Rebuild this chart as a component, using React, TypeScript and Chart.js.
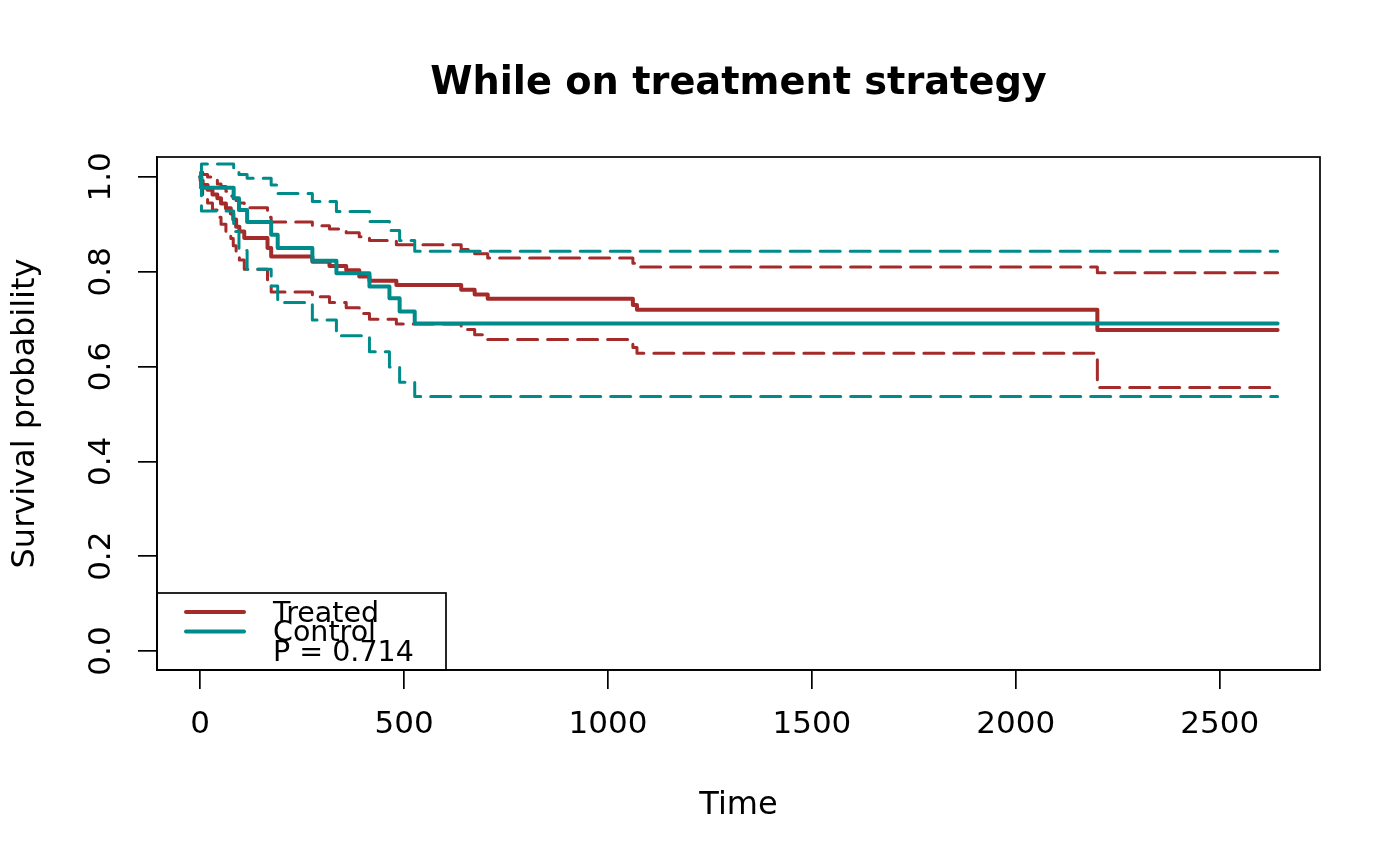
import React, { useEffect, useRef } from "react";
import { Chart, registerables } from "chart.js";

Chart.register(...registerables);

// ---- text ----
const TITLE = "While on treatment strategy";
const X_TITLE = "Time";
const Y_TITLE = "Survival probability";
const legendLabels = ["Treated", "Control"];
const pValueLabel = "P = 0.714";

// ---- ticks ----
const xTickValues = [0, 500, 1000, 1500, 2000, 2500];
const yTickValues = [0, 0.2, 0.4, 0.6, 0.8, 1.0];
const yTickLabels = ["0.0", "0.2", "0.4", "0.6", "0.8", "1.0"];

// ---- Treated (Kaplan-Meier steps) ----
const trtTime = [0, 1, 6, 18, 30, 42, 51, 63, 75, 81, 88, 96, 108, 165, 174, 275, 317, 358, 390, 415, 481, 640, 673, 705, 1061, 1071, 2200, 2642];
const trtSurv = [1, 0.992, 0.983, 0.973, 0.963, 0.955, 0.944, 0.934, 0.923, 0.91, 0.895, 0.885, 0.871, 0.85, 0.832, 0.821, 0.812, 0.803, 0.79, 0.781, 0.772, 0.762, 0.752, 0.743, 0.73, 0.72, 0.677, 0.677];
const trtUpper = [1, 1.01, 1.005, 1.0, 0.995, 0.985, 0.98, 0.97, 0.96, 0.955, 0.95, 0.945, 0.935, 0.915, 0.905, 0.897, 0.89, 0.882, 0.874, 0.866, 0.857, 0.847, 0.838, 0.829, 0.818, 0.81, 0.798, 0.798];
const trtLower = [1, 0.977, 0.96, 0.945, 0.93, 0.915, 0.9, 0.885, 0.87, 0.855, 0.84, 0.825, 0.805, 0.783, 0.757, 0.747, 0.735, 0.724, 0.712, 0.7, 0.69, 0.678, 0.667, 0.657, 0.64, 0.628, 0.556, 0.556];

// ---- Control (Kaplan-Meier steps) ----
const ctlTime = [0, 3, 82, 95, 115, 174, 190, 275, 334, 415, 464, 489, 526, 2642];
const ctlSurv = [1, 0.977, 0.955, 0.93, 0.905, 0.878, 0.85, 0.823, 0.797, 0.769, 0.744, 0.716, 0.691, 0.691];
const ctlUpper = [1, 1.027, 1.015, 1.005, 0.997, 0.983, 0.965, 0.948, 0.927, 0.906, 0.887, 0.866, 0.843, 0.843];
const ctlLower = [1, 0.928, 0.885, 0.845, 0.805, 0.77, 0.735, 0.698, 0.665, 0.631, 0.599, 0.567, 0.537, 0.537];

const RED = "#A52A2A";
const TEAL = "#008B8B";
const FONT = '"DejaVu Sans", "Liberation Sans", sans-serif';

const pts = (t: number[], v: number[]) => t.map((x, i) => ({ x, y: v[i] }));

const overlay = {
  id: "overlay",
  afterDraw(chart: any) {
    const { ctx, chartArea: a, scales } = chart;
    ctx.save();
    // plot box
    ctx.strokeStyle = "#000";
    ctx.lineWidth = 1.7;
    ctx.strokeRect(a.left, a.top, a.right - a.left, a.bottom - a.top);

    // title
    ctx.fillStyle = "#000";
    ctx.font = `bold 38.3px ${FONT}`;
    ctx.textAlign = "center";
    ctx.textBaseline = "alphabetic";
    ctx.fillText(TITLE, (a.left + a.right) / 2, 94);

    // rotated y tick labels
    ctx.font = `31px ${FONT}`;
    yTickValues.forEach((v, i) => {
      const y = scales.y.getPixelForValue(v);
      ctx.save();
      ctx.translate(102, y);
      ctx.rotate(-Math.PI / 2);
      ctx.textAlign = "center";
      ctx.textBaseline = "middle";
      ctx.fillText(yTickLabels[i], 0, 0);
      ctx.restore();
    });

    // legend
    const lx0 = a.left;
    const lx1 = 446;
    const ly0 = 593;
    const ly1 = a.bottom;
    ctx.strokeStyle = "#000";
    ctx.lineWidth = 1.7;
    ctx.strokeRect(lx0, ly0, lx1 - lx0, ly1 - ly0);
    ctx.lineCap = "round";
    ctx.lineWidth = 4;
    [RED, TEAL].forEach((c, i) => {
      const y = 612 + i * 19.5;
      ctx.strokeStyle = c;
      ctx.beginPath();
      ctx.moveTo(186, y);
      ctx.lineTo(244, y);
      ctx.stroke();
    });
    ctx.fillStyle = "#000";
    ctx.font = `28.5px ${FONT}`;
    ctx.textAlign = "left";
    ctx.textBaseline = "alphabetic";
    ctx.fillText(legendLabels[0], 273, 622);
    ctx.fillText(legendLabels[1], 273, 641);
    ctx.fillText(pValueLabel, 273, 661);
    ctx.restore();
  },
};

export default function App() {
  const ref = useRef<HTMLCanvasElement | null>(null);
  useEffect(() => {
    if (!ref.current) return;
    const solid = (label: string, data: any, color: string, order: number) => ({
      label,
      data,
      borderColor: color,
      backgroundColor: color,
      borderWidth: 4,
      stepped: "before" as const,
      pointRadius: 0,
      fill: false,
      borderCapStyle: "round" as const,
      borderJoinStyle: "round" as const,
      order,
    });
    const dashed = (label: string, data: any, color: string, order: number) => ({
      ...solid(label, data, color, order),
      borderWidth: 3,
      borderDash: [20, 10],
    });
    const chart = new Chart(ref.current, {
      type: "line",
      data: {
        datasets: [
          solid("Control", pts(ctlTime, ctlSurv), TEAL, 1),
          dashed("Control upper", pts(ctlTime, ctlUpper), TEAL, 2),
          dashed("Control lower", pts(ctlTime, ctlLower), TEAL, 3),
          solid("Treated", pts(trtTime, trtSurv), RED, 4),
          dashed("Treated upper", pts(trtTime, trtUpper), RED, 5),
          dashed("Treated lower", pts(trtTime, trtLower), RED, 6),
        ],
      },
      options: {
        animation: false,
        responsive: false,
        maintainAspectRatio: false,
        layout: { padding: { left: 0, top: 157, right: 80, bottom: 0 } },
        plugins: {
          legend: { display: false },
          title: { display: false },
          tooltip: { enabled: false },
        },
        scales: {
          x: {
            type: "linear",
            min: -106,
            max: 2746,
            afterBuildTicks: (s: any) => {
              s.ticks = xTickValues.map((value) => ({ value }));
            },
            afterFit: (s: any) => {
              s.height = 196;
            },
            ticks: {
              color: "#000",
              font: { family: FONT, size: 31, lineHeight: 1.2 },
              padding: 17,
              maxRotation: 0,
              autoSkip: false,
              callback: (v: any) => String(v),
            },
            grid: {
              display: true,
              drawOnChartArea: false,
              drawTicks: true,
              tickLength: 19,
              color: "#000",
              lineWidth: 1.7,
            },
            border: { display: true, color: "#000", width: 1.7 },
            title: {
              display: true,
              text: X_TITLE,
              color: "#000",
              font: { family: FONT, size: 32, lineHeight: 1.2 },
              padding: { top: 0, bottom: 41 },
            },
          },
          y: {
            type: "linear",
            min: -0.04,
            max: 1.042,
            afterBuildTicks: (s: any) => {
              s.ticks = yTickValues.map((value) => ({ value }));
            },
            afterFit: (s: any) => {
              s.width = 157;
            },
            ticks: { display: false },
            grid: {
              display: true,
              drawOnChartArea: false,
              drawTicks: true,
              tickLength: 19,
              color: "#000",
              lineWidth: 1.7,
            },
            border: { display: true, color: "#000", width: 1.7 },
            title: {
              display: true,
              text: Y_TITLE,
              color: "#000",
              font: { family: FONT, size: 32, lineHeight: 1.2 },
              padding: { top: 6, bottom: 0 },
            },
          },
        },
      },
      plugins: [overlay],
    });
    return () => chart.destroy();
  }, []);
  return (
    <div style={{ position: "absolute", left: 0, top: 0, width: 1400, height: 866, background: "#fff" }}>
      <canvas ref={ref} width={1400} height={866} style={{ width: 1400, height: 866 }} />
    </div>
  );
}
